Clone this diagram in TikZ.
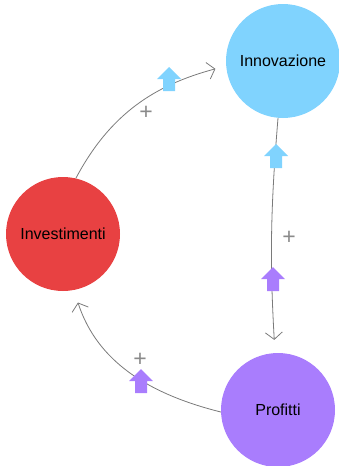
\documentclass[tikz,border=0pt]{standalone}
\usepackage{fontspec}
\setmainfont{Liberation Sans}
\usetikzlibrary{arrows.meta}
\definecolor{cblue}{HTML}{80D3FE}
\definecolor{cred}{HTML}{E84142}
\definecolor{cpurple}{HTML}{A97DFD}
\definecolor{cline}{HTML}{7A7A7A}
\definecolor{cplus}{HTML}{8A8A8A}
\tikzset{
  var/.style={circle, minimum size=114pt, inner sep=0pt, font=\fontsize{16}{18}\selectfont, text=black},
  link/.style={draw=cline, line width=0.8pt, -{Straight Barb[length=7pt,width=17pt,line width=0.8pt]}},
  plus/.style={text=cplus, font=\fontsize{23}{25}\selectfont, inner sep=0pt},
  upicon/.pic={\fill[#1] (0,12) -- (12,0) -- (6,0) -- (6,-12) -- (-6,-12) -- (-6,0) -- (-12,0) -- cycle;},
}
\begin{document}
\begin{tikzpicture}[x=1pt,y=1pt]
\useasboundingbox (0,0) rectangle (339,-466);
\node[var, fill=cblue] (inn) at (283,-61) {Innovazione};
\node[var, fill=cred] (inv) at (63,-234) {Investimenti};
\node[var, fill=cpurple] (prof) at (278,-410) {Profitti};

\draw[link, shorten >=11pt] (inv.77) to[out=62,in=195] (inn.185);
\draw[link, shorten >=13pt] (inn.265) to[bend right=4] (prof.93);
\draw[link, shorten >=13pt] (prof.182) to[out=166,in=-72] (inv.281);

\pic at (169,-79) {upicon=cblue};
\pic at (276,-156) {upicon=cblue};
\pic at (273,-279) {upicon=cpurple};
\pic at (141,-381) {upicon=cpurple};

\node[plus] (p1) at (146,-113) {+};
\node[plus] (p2) at (289,-238) {+};
\node[plus] (p3) at (140,-360) {+};
\end{tikzpicture}
\end{document}
